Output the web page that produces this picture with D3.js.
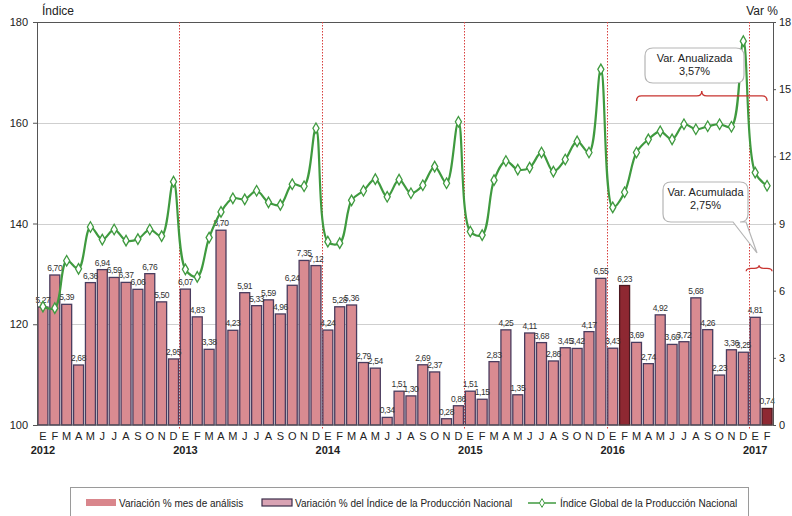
<!DOCTYPE html>
<html>
<head>
  <meta charset="utf-8">
  <script src="https://d3js.org/d3.v7.min.js"></script>
  <style>
    body { margin: 0; background: #fff; }
    svg { font-family: "Liberation Sans Narrow", "Liberation Sans", Arial, sans-serif; }
    .tick-label { font-size: 11px; fill: #222; }
    .bar-label { font-size: 8.5px; fill: #333; letter-spacing: -0.4px; }
  </style>
</head>
<body>
  <svg width="792" height="516"></svg>

  <script>
    // Data
    const monthLetters = ["E", "F", "M", "A", "M", "J", "J", "A", "S", "O", "N", "D"];
    const years = [2012, 2013, 2014, 2015, 2016, 2017];

    // Variación % del Índice de la Producción Nacional (right axis)
    const variacion = [
      5.27, 6.70, 5.39, 2.68, 6.36, 6.94, 6.59, 6.37, 6.06, 6.76, 5.50, 2.95,
      6.07, 4.83, 3.38, 8.70, 4.23, 5.91, 5.33, 5.59, 4.96, 6.24, 7.35, 7.12,
      4.24, 5.28, 5.36, 2.79, 2.54, 0.34, 1.51, 1.30, 2.69, 2.37, 0.28, 0.86,
      1.51, 1.15, 2.83, 4.25, 1.35, 4.11, 3.68, 2.86, 3.45, 3.42, 4.17, 6.55,
      3.43, 6.23, 3.69, 2.74, 4.92, 3.60, 3.72, 5.68, 4.26, 2.23, 3.36, 3.25,
      4.81, 0.74
    ];

    // Índice Global de la Producción Nacional (left axis)
    const indice = [
      123.5, 123.2, 132.6, 131.0, 139.3, 136.8, 138.8, 136.6, 136.9, 138.8, 137.5, 148.3,
      130.9, 129.4, 137.2, 142.3, 145.0, 144.8, 146.5, 144.2, 143.7, 147.8, 147.4, 158.9,
      136.4, 136.1, 144.6, 146.5, 148.8, 145.3, 148.7, 146.0, 147.6, 151.3, 148.0, 160.2,
      138.4, 137.7, 148.6, 152.4, 150.7, 151.1, 154.1, 150.3, 152.7, 156.3, 154.1, 170.6,
      143.2, 146.2, 154.1, 156.7, 158.3, 156.7, 159.7, 158.7, 159.3, 159.7, 159.2, 176.2,
      150.1, 147.5
    ];

    // months of analysis (dark bars): Feb 2016, Feb 2017
    const mesAnalisis = [49, 61];

    const leftTicks = [100, 120, 140, 160, 180];
    const rightTicks = [0, 3, 6, 9, 12, 15, 18];
    const gridTicks = [120, 140, 160];

    const plotLeft = 37, plotRight = 773, plotTop = 22, plotBottom = 425;
    const svg = d3.select("svg");

    const idx = d3.range(variacion.length);
    const x = d3.scaleBand().domain(idx).range([plotLeft, plotRight]).paddingInner(0.16).paddingOuter(0.08);
    const step = x.step();
    const cx = i => x(i) + x.bandwidth() / 2;
    const yL = d3.scaleLinear().domain([100, 180]).range([plotBottom, plotTop]);
    const yR = d3.scaleLinear().domain([0, 18]).range([plotBottom, plotTop]);

    // gridlines
    svg.append("g").selectAll("line").data(gridTicks).join("line")
      .attr("x1", plotLeft).attr("x2", plotRight)
      .attr("y1", d => Math.round(yL(d)) + 0.5).attr("y2", d => Math.round(yL(d)) + 0.5)
      .attr("stroke", "#cfcfcf").attr("stroke-width", 1);

    // top frame
    svg.append("line").attr("x1", plotLeft).attr("x2", plotRight).attr("y1", plotTop + 0.5).attr("y2", plotTop + 0.5)
      .attr("stroke", "#555").attr("stroke-width", 1);

    // year separators (red dotted)
    const sepX = years.slice(1).map((yr, k) => Math.round(x(12 * (k + 1)) - (step - x.bandwidth()) / 2) + 0.5);
    svg.append("g").selectAll("line").data(sepX).join("line")
      .attr("x1", d => d).attr("x2", d => d)
      .attr("y1", plotTop).attr("y2", plotBottom + 5)
      .attr("stroke", "#d8413f").attr("stroke-width", 1)
      .attr("stroke-dasharray", "1.5,1.5");

    // bars
    svg.append("g").selectAll("rect").data(variacion).join("rect")
      .attr("x", (d, i) => x(i))
      .attr("y", d => yR(d))
      .attr("width", x.bandwidth())
      .attr("height", d => plotBottom - yR(d))
      .attr("fill", (d, i) => mesAnalisis.includes(i) ? "#8e2832" : "#d98b91")
      .attr("stroke", (d, i) => mesAnalisis.includes(i) ? "#4c1820" : "#4a3c5e")
      .attr("stroke-width", 1.3);

    // bar labels
    const fmt = v => v.toFixed(2).replace(".", ",");
    svg.append("g").selectAll("text").data(variacion).join("text")
      .attr("class", "bar-label")
      .attr("x", (d, i) => cx(i))
      .attr("y", d => yR(d) - 4)
      .attr("text-anchor", "middle")
      .text(d => fmt(d));

    // index line
    const line = d3.line()
      .x((d, i) => cx(i))
      .y(d => yL(d))
      .curve(d3.curveCatmullRom.alpha(0.5));
    svg.append("path").datum(indice)
      .attr("d", line)
      .attr("fill", "none")
      .attr("stroke", "#3f9a3f")
      .attr("stroke-width", 2.2);
    svg.append("g").selectAll("path").data(indice).join("path")
      .attr("d", d3.symbol(d3.symbolDiamond, 32))
      .attr("transform", (d, i) => `translate(${cx(i)},${yL(d)})`)
      .attr("fill", "#fff")
      .attr("stroke", "#3f9a3f")
      .attr("stroke-width", 1.3);

    // axes
    const axL = svg.append("g").attr("transform", `translate(${plotLeft},0)`)
      .call(d3.axisLeft(yL).tickValues(leftTicks).tickSize(4).tickPadding(5));
    const axR = svg.append("g").attr("transform", `translate(${plotRight},0)`)
      .call(d3.axisRight(yR).tickValues(rightTicks).tickSize(3).tickPadding(3));
    [axL, axR].forEach(a => {
      a.attr("font-family", null).attr("font-size", null);
      a.select(".domain").attr("stroke", "#555");
      a.selectAll(".tick line").attr("stroke", "#555");
      a.selectAll("text").attr("class", "tick-label");
    });

    // bottom axis line
    svg.append("line").attr("x1", plotLeft).attr("x2", plotRight).attr("y1", plotBottom).attr("y2", plotBottom)
      .attr("stroke", "#555");

    // month letters and years
    svg.append("g").selectAll("text").data(idx).join("text")
      .attr("x", i => cx(i)).attr("y", plotBottom + 15)
      .attr("text-anchor", "middle")
      .attr("font-size", 11).attr("fill", "#222")
      .text(i => monthLetters[i % 12]);
    svg.append("g").selectAll("text").data(years).join("text")
      .attr("x", (d, k) => cx(k * 12)).attr("y", plotBottom + 29)
      .attr("text-anchor", "middle")
      .attr("font-size", 11).attr("font-weight", "bold").attr("fill", "#222")
      .text(d => d);

    // axis titles
    svg.append("text").attr("x", 42).attr("y", 15).attr("font-size", 12).attr("fill", "#222").text("Índice");
    svg.append("text").attr("x", 778).attr("y", 15).attr("text-anchor", "end")
      .attr("font-size", 12).attr("fill", "#222").text("Var %");

    // braces
    function brace(x1, x2, y, h) {
      const xm = (x1 + x2) / 2, r = 5;
      return `M${x1},${y + h} Q${x1},${y} ${x1 + r},${y} L${xm - r},${y} Q${xm},${y} ${xm},${y - h}` +
             ` Q${xm},${y} ${xm + r},${y} L${x2 - r},${y} Q${x2},${y} ${x2},${y + h}`;
    }
    svg.append("path").attr("d", brace(cx(50), cx(61), yR(14.7), 5))
      .attr("fill", "none").attr("stroke", "#c8332f").attr("stroke-width", 1.3);
    svg.append("path").attr("d", brace(x(60) - 4, plotRight - 1, yR(7.0), 3))
      .attr("fill", "none").attr("stroke", "#c8332f").attr("stroke-width", 1.3);

    // callout boxes
    function callout(bx, by, w, h, lines, tail) {
      const g = svg.append("g");
      const r = 8;
      let p = `M${bx + r},${by} H${bx + w - r} Q${bx + w},${by} ${bx + w},${by + r} V${by + h - r} Q${bx + w},${by + h} ${bx + w - r},${by + h}`;
      if (tail) p += ` H${tail[2]} L${tail[0]},${tail[1]} L${tail[3]},${by + h}`;
      p += ` H${bx + r} Q${bx},${by + h} ${bx},${by + h - r} V${by + r} Q${bx},${by} ${bx + r},${by} Z`;
      g.append("path").attr("d", p).attr("fill", "#fff").attr("stroke", "#b5b5b5").attr("stroke-width", 1.2);
      lines.forEach((t, k) => g.append("text")
        .attr("x", bx + w / 2).attr("y", by + 14 + k * 13)
        .attr("text-anchor", "middle").attr("font-size", 11).attr("fill", "#222").text(t));
    }
    callout(645, 48, 99, 35, ["Var. Anualizada", "3,57%"], null);
    callout(663, 182, 85, 40, ["Var. Acumulada", "2,75%"], [757, 253, 746, 733]);

    // legend
    const lg = svg.append("g");
    lg.append("rect").attr("x", 70.5).attr("y", 487.5).attr("width", 678).attr("height", 40)
      .attr("fill", "#fff").attr("stroke", "#9a9a9a");
    lg.append("rect").attr("x", 86).attr("y", 499).attr("width", 30).attr("height", 7).attr("fill", "#d9868c");
    lg.append("text").attr("x", 119).attr("y", 507).attr("font-size", 10).attr("fill", "#222")
      .text("Variación % mes de análisis");
    lg.append("rect").attr("x", 262).attr("y", 499).attr("width", 30).attr("height", 7)
      .attr("fill", "#d9a3b4").attr("stroke", "#3b2d4a").attr("stroke-width", 1.2);
    lg.append("text").attr("x", 295).attr("y", 507).attr("font-size", 10).attr("fill", "#222")
      .text("Variación % del Índice de la Producción Nacional");
    lg.append("line").attr("x1", 528).attr("x2", 556).attr("y1", 503).attr("y2", 503)
      .attr("stroke", "#3f9a3f").attr("stroke-width", 1.5);
    lg.append("path").attr("d", d3.symbol(d3.symbolDiamond, 22))
      .attr("transform", "translate(542,503)").attr("fill", "#fff").attr("stroke", "#3f9a3f");
    lg.append("text").attr("x", 560).attr("y", 507).attr("font-size", 10).attr("fill", "#222")
      .text("Índice Global de la Producción Nacional");
  </script>
</body>
</html>
